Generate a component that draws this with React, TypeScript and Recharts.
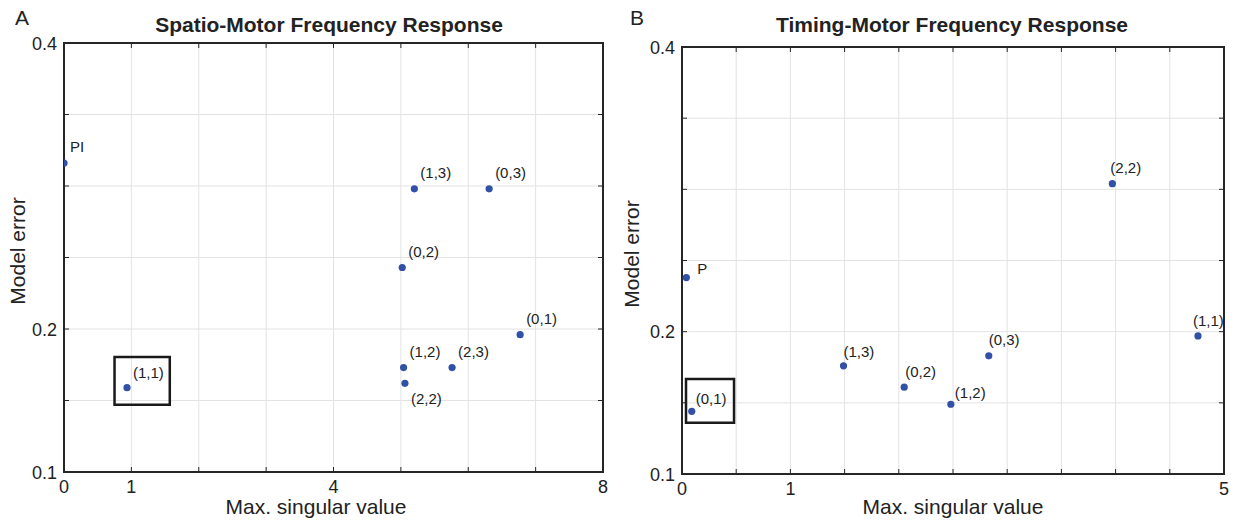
import React from "react";
import {
  ScatterChart,
  Scatter,
  XAxis,
  YAxis,
  CartesianGrid,
  ReferenceArea,
} from "recharts";

// Spatio-motor models
const spatioNames = ["PI", "(1,1)", "(1,3)", "(0,3)", "(0,2)", "(0,1)", "(1,2)", "(2,3)", "(2,2)"];
const spatioSigma = [0, 0.935, 5.2, 6.31, 5.02, 6.77, 5.04, 5.76, 5.06];
const spatioError = [0.316, 0.159, 0.298, 0.298, 0.243, 0.196, 0.173, 0.173, 0.162];

// Timing-motor models
const timingNames = ["P", "(0,1)", "(1,3)", "(0,2)", "(1,2)", "(0,3)", "(2,2)", "(1,1)"];
const timingSigma = [0.04, 0.09, 1.49, 2.05, 2.48, 2.83, 3.97, 4.76];
const timingError = [0.238, 0.144, 0.176, 0.161, 0.149, 0.183, 0.304, 0.197];

// selected model boxes: [sigma from, sigma to, error from, error to]
const spatioPick = [0.75, 1.57, 0.147, 0.1805];
const timingPick = [0.037, 0.48, 0.136, 0.1668];

const errorTicks = [0.1, 0.15, 0.2, 0.25, 0.3, 0.35, 0.4];
const errorTickLabels = [0.1, 0.2, 0.4];
const spatioTicks = [0, 1, 2, 3, 4, 5, 6, 7, 8];
const spatioTickLabels = [0, 1, 4, 8];
const timingTicks = [0, 0.5, 1, 1.5, 2, 2.5, 3, 3.5, 4, 4.5, 5];
const timingTickLabels = [0, 1, 5];

const FONT = '"Liberation Sans", Arial, Helvetica, sans-serif';
const INK = "#262626";
const TEXT = "#222";
const DOT = "#3151a6";
const GRID = "#e3e3e3";
const TICK_LEN = 5;

// where each point's name sits relative to the dot
const DEFAULT_OFFSET: [number, number] = [6, -11];
const spatioOffsets: Record<string, [number, number]> = {
  PI: [6, -11],
  "(2,2)": [6, 21],
  "(1,1)": [6, -10],
};
const timingOffsets: Record<string, [number, number]> = {
  P: [11, -4],
  "(0,1)": [4, -7],
  "(1,3)": [0, -9],
  "(0,2)": [1, -10],
  "(1,2)": [4, -6],
  "(0,3)": [0, -11],
  "(2,2)": [-2, -11],
  "(1,1)": [-5, -10],
};

interface Point {
  sigma: number;
  error: number;
  name: string;
}

function zip(names: string[], sigma: number[], error: number[]): Point[] {
  return names.map((name, i) => ({ name, sigma: sigma[i], error: error[i] }));
}

interface PanelProps {
  left: number;
  width: number;
  height: number;
  margin: { top: number; right: number; bottom: number; left: number };
  data: Point[];
  xMax: number;
  xTicks: number[];
  xTickLabels: number[];
  pick: number[];
  offsets: Record<string, [number, number]>;
}

function Panel({ left, width, height, margin, data, xMax, xTicks, xTickLabels, pick, offsets }: PanelProps) {
  const yAxisWidth = 60;
  const xAxisHeight = 30;
  const plotW = width - margin.left - margin.right - yAxisWidth;
  const plotH = height - margin.top - margin.bottom - xAxisHeight;

  // ticks point inward on both the bottom and top edges
  const xTick = (p: any) => {
    const x = Number(p.x);
    const y = Number(p.y);
    const v = p.payload?.value;
    return (
      <g>
        <line x1={x} x2={x} y1={y} y2={y - TICK_LEN} stroke={INK} strokeWidth={1} />
        <line x1={x} x2={x} y1={y - plotH} y2={y - plotH + TICK_LEN} stroke={INK} strokeWidth={1} />
        {xTickLabels.includes(v) && (
          <text x={x} y={y + 21} textAnchor="middle" fontSize={18} fontFamily={FONT} fill={TEXT}>
            {v}
          </text>
        )}
      </g>
    );
  };

  const yTick = (p: any) => {
    const x = Number(p.x);
    const y = Number(p.y);
    const v = p.payload?.value;
    return (
      <g>
        <line x1={x} x2={x + TICK_LEN} y1={y} y2={y} stroke={INK} strokeWidth={1} />
        <line x1={x + plotW} x2={x + plotW - TICK_LEN} y1={y} y2={y} stroke={INK} strokeWidth={1} />
        {errorTickLabels.includes(v) && (
          <text x={x - 7} y={y + 6.5} textAnchor="end" fontSize={18} fontFamily={FONT} fill={TEXT}>
            {v}
          </text>
        )}
      </g>
    );
  };

  const dot = (p: any) => {
    const cx = Number(p.cx);
    const cy = Number(p.cy);
    const name: string = p.payload?.name ?? "";
    const [dx, dy] = offsets[name] ?? DEFAULT_OFFSET;
    return (
      <g>
        <circle cx={cx} cy={cy} r={3.6} fill={DOT} />
        <text x={cx + dx} y={cy + dy} fontSize={15} fontFamily={FONT} fill={TEXT}>
          {name}
        </text>
      </g>
    );
  };

  return (
    <div style={{ position: "absolute", left, top: 0 }}>
      <ScatterChart width={width} height={height} margin={margin}>
        <CartesianGrid stroke={GRID} strokeWidth={1} />
        <XAxis
          type="number"
          dataKey="sigma"
          domain={[0, xMax]}
          ticks={xTicks}
          interval={0}
          height={xAxisHeight}
          tickSize={0}
          tickMargin={0}
          axisLine={false}
          tick={xTick}
          allowDataOverflow
        />
        <YAxis
          type="number"
          dataKey="error"
          domain={[0.1, 0.4]}
          ticks={errorTicks}
          interval={0}
          width={yAxisWidth}
          tickSize={0}
          tickMargin={0}
          axisLine={false}
          tick={yTick}
          allowDataOverflow
        />
        <ReferenceArea
          x1={0}
          x2={xMax}
          y1={0.1}
          y2={0.4}
          fill="none"
          stroke={INK}
          strokeWidth={2}
          fillOpacity={0}
          ifOverflow="visible"
        />
        <ReferenceArea
          x1={pick[0]}
          x2={pick[1]}
          y1={pick[2]}
          y2={pick[3]}
          fill="none"
          fillOpacity={0}
          stroke="#1a1a1a"
          strokeWidth={2.5}
          ifOverflow="visible"
        />
        <Scatter data={data} dataKey="error" shape={dot} isAnimationActive={false} />
      </ScatterChart>
    </div>
  );
}

export default function App() {
  const titleStyle = { fontFamily: FONT, fill: TEXT };
  return (
    <div style={{ position: "absolute", left: 0, top: 0, width: 1246, height: 523, background: "#fff" }}>
      <Panel
        left={0}
        width={620}
        height={523}
        margin={{ top: 43, right: 17, bottom: 21, left: 4 }}
        data={zip(spatioNames, spatioSigma, spatioError)}
        xMax={8}
        xTicks={spatioTicks}
        xTickLabels={spatioTickLabels}
        pick={spatioPick}
        offsets={spatioOffsets}
      />
      <Panel
        left={620}
        width={626}
        height={523}
        margin={{ top: 47, right: 22, bottom: 19, left: 2 }}
        data={zip(timingNames, timingSigma, timingError)}
        xMax={5}
        xTicks={timingTicks}
        xTickLabels={timingTickLabels}
        pick={timingPick}
        offsets={timingOffsets}
      />
      <svg
        width={1246}
        height={523}
        style={{ position: "absolute", left: 0, top: 0, pointerEvents: "none" }}
      >
        <g {...titleStyle}>
          <text x={15} y={25} fontSize={21}>A</text>
          <text x={329} y={32} fontSize={21} fontWeight="bold" textAnchor="middle">
            Spatio-Motor Frequency Response
          </text>
          <text x={316} y={514} fontSize={21} textAnchor="middle">Max. singular value</text>
          <text transform="translate(25,251) rotate(-90)" fontSize={21} textAnchor="middle">
            Model error
          </text>

          <text x={630} y={25} fontSize={21}>B</text>
          <text x={952} y={32} fontSize={21} fontWeight="bold" textAnchor="middle">
            Timing-Motor Frequency Response
          </text>
          <text x={953} y={514} fontSize={21} textAnchor="middle">Max. singular value</text>
          <text transform="translate(639,254) rotate(-90)" fontSize={21} textAnchor="middle">
            Model error
          </text>
        </g>
      </svg>
    </div>
  );
}
